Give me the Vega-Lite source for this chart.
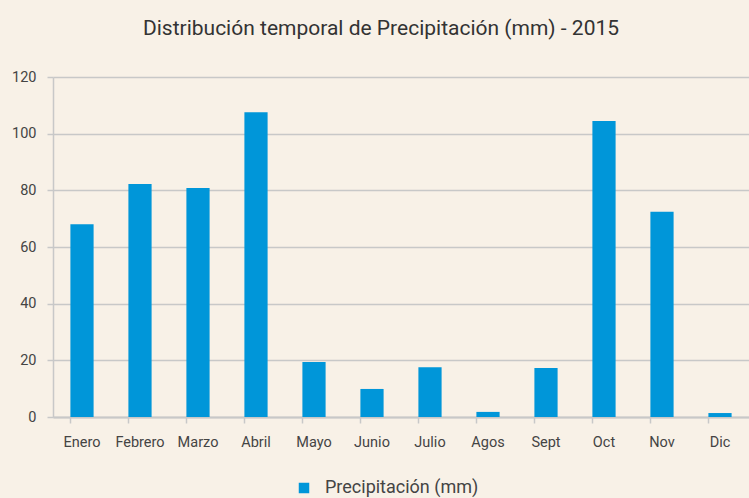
{
  "$schema": "https://vega.github.io/schema/vega-lite/v6.json",
  "autosize": "none",
  "width": 696,
  "height": 340,
  "padding": {"left": 53, "top": 77, "right": 0, "bottom": 81},
  "background": "#f8f1e7",
  "config": {
    "view": {"stroke": null},
    "font": "Roboto"
  },
  "title": {
    "text": "Distribución temporal de Precipitación (mm) - 2015",
    "font": "Roboto",
    "fontSize": 21,
    "fontWeight": "normal",
    "color": "#333333",
    "anchor": "middle",
    "frame": "group",
    "dx": -20,
    "offset": 30
  },
  "data": {
    "values": [
      {"mes": "Enero", "valor": 68},
      {"mes": "Febrero", "valor": 82.2},
      {"mes": "Marzo", "valor": 80.8},
      {"mes": "Abril", "valor": 107.6},
      {"mes": "Mayo", "valor": 19.4},
      {"mes": "Junio", "valor": 9.9},
      {"mes": "Julio", "valor": 17.6},
      {"mes": "Agos", "valor": 1.8},
      {"mes": "Sept", "valor": 17.3},
      {"mes": "Oct", "valor": 104.5},
      {"mes": "Nov", "valor": 72.4},
      {"mes": "Dic", "valor": 1.4}
    ]
  },
  "mark": {"type": "bar"},
  "encoding": {
    "x": {
      "field": "mes",
      "type": "nominal",
      "sort": null,
      "scale": {"paddingInner": 0.6, "paddingOuter": 0.3},
      "axis": {
        "title": null,
        "labelAngle": 0,
        "labelFont": "Roboto",
        "labelFontSize": 14.5,
        "labelColor": "#444444",
        "labelPadding": 12,
        "domainColor": "#c8c8c8",
        "domainWidth": 2,
        "tickColor": "#c8c8c8",
        "tickSize": 6,
        "tickWidth": 1.5,
        "bandPosition": 0,
        "grid": false
      }
    },
    "y": {
      "field": "valor",
      "type": "quantitative",
      "scale": {"domain": [0, 120], "nice": false},
      "axis": {
        "title": null,
        "values": [0, 20, 40, 60, 80, 100, 120],
        "labelFont": "Roboto",
        "labelFontSize": 14.5,
        "labelColor": "#444444",
        "labelPadding": 11,
        "domainColor": "#c8c8c8",
        "domainWidth": 1.5,
        "tickColor": "#c8c8c8",
        "tickSize": 6,
        "tickWidth": 1.5,
        "grid": true,
        "gridColor": "#c8c8c8",
        "gridWidth": 1.5
      }
    },
    "color": {
      "datum": "Precipitación (mm)",
      "type": "nominal",
      "scale": {"range": ["#0096d9"]},
      "legend": {
        "title": null,
        "orient": "none",
        "legendX": 242,
        "legendY": 402,
        "symbolType": "square",
        "symbolSize": 110,
        "symbolStrokeWidth": 0,
        "labelFont": "Roboto",
        "labelFontSize": 18,
        "labelColor": "#444444",
        "labelOffset": 12
      }
    }
  }
}
